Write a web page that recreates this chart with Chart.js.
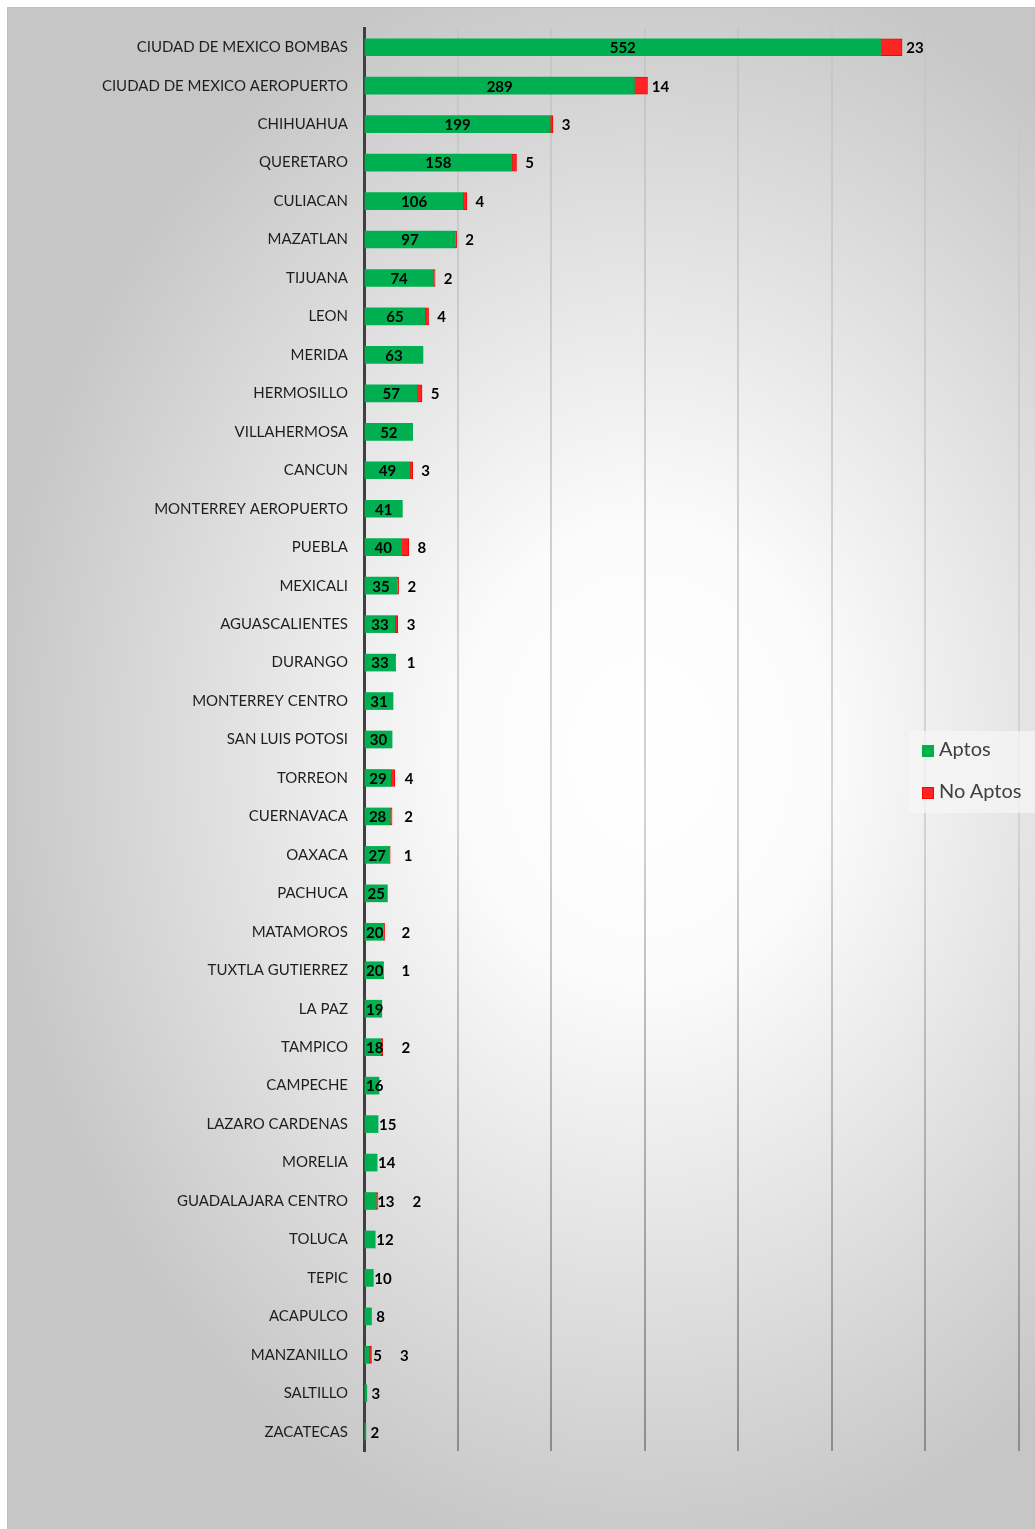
<!DOCTYPE html>
<html>
<head>
<meta charset="utf-8">
<script src="https://cdn.jsdelivr.net/npm/chart.js@4.4.1/dist/chart.umd.min.js"></script>
<style>
  body { margin: 0; background: #ffffff; }
  #frame {
    position: absolute; left: 7px; top: 7px; width: 1028px; height: 1522px;
    background: radial-gradient(ellipse 64% 54% at 62% 49%, #ffffff 0%, #fbfbfb 28%, #e2e2e2 62%, #c6c6c6 100%);
    border-left: 1px solid #c0c0c0; border-top: 1px solid #c0c0c0; box-sizing: border-box;
  }
  #chart { display: block; }
  #legend {
    position: absolute; left: 901px; top: 723px; width: 127px; height: 82px;
    background: rgba(245, 245, 245, 0.75);
    font-family: Lato, "Open Sans", sans-serif; font-size: 20px; color: #404040;
  }
  .item { position: absolute; left: 13px; height: 24px; line-height: 24px; white-space: nowrap; }
  .item span { display: inline-block; width: 12px; height: 12px; margin-right: 5px; vertical-align: -1px; box-sizing: border-box; }
</style>
</head>
<body>
<div id="frame">
  <canvas id="chart" width="1027" height="1521"></canvas>
  <div id="legend"></div>
</div>
<script>
var categories = ["CIUDAD DE MEXICO BOMBAS", "CIUDAD DE MEXICO AEROPUERTO", "CHIHUAHUA", "QUERETARO", "CULIACAN",
  "MAZATLAN", "TIJUANA", "LEON", "MERIDA", "HERMOSILLO", "VILLAHERMOSA", "CANCUN", "MONTERREY AEROPUERTO",
  "PUEBLA", "MEXICALI", "AGUASCALIENTES", "DURANGO", "MONTERREY CENTRO", "SAN LUIS POTOSI", "TORREON",
  "CUERNAVACA", "OAXACA", "PACHUCA", "MATAMOROS", "TUXTLA GUTIERREZ", "LA PAZ", "TAMPICO", "CAMPECHE",
  "LAZARO CARDENAS", "MORELIA", "GUADALAJARA CENTRO", "TOLUCA", "TEPIC", "ACAPULCO", "MANZANILLO",
  "SALTILLO", "ZACATECAS"];
var aptos = [552, 289, 199, 158, 106, 97, 74, 65, 63, 57, 52, 49, 41, 40, 35, 33, 33, 31, 30, 29,
  28, 27, 25, 20, 20, 19, 18, 16, 15, 14, 13, 12, 10, 8, 5, 3, 2];
var noAptos = [23, 14, 3, 5, 4, 2, 2, 4, null, 5, null, 3, null, 8, 2, 3, 1, null, null, 4,
  2, 1, null, 2, 1, null, 2, null, null, null, 2, null, null, null, 3, null, null];
var seriesNames = ["Aptos", "No Aptos"];
var xTicks = [0, 100, 200, 300, 400, 500, 600, 700];

var green = "#00b050";
var red = "#ff2424";

// draws the numbers on the bars, small green bars push their number to the right
var barLabels = {
  id: "barLabels",
  afterDatasetsDraw: function (chart) {
    var ctx = chart.ctx;
    var g = chart.getDatasetMeta(0).data;
    var r = chart.getDatasetMeta(1).data;
    ctx.save();
    ctx.font = "bold 15px Lato, 'Open Sans', sans-serif";
    ctx.fillStyle = "#000000";
    ctx.textAlign = "center";
    ctx.textBaseline = "middle";
    for (var i = 0; i < g.length; i++) {
      var bar = g[i];
      var txt = String(aptos[i]);
      var w = ctx.measureText(txt).width;
      var width = bar.x - bar.base;
      var cx = (bar.x + bar.base) / 2;
      if (width < w * 0.75) {
        cx = bar.x + Math.max(w / 2, 8) + 1;
      } else {
        cx = Math.max(cx, bar.base + w / 2 + 1);
      }
      ctx.fillText(txt, cx, bar.y + 1);
      if (noAptos[i] != null) {
        var t2 = String(noAptos[i]);
        var w2 = ctx.measureText(t2).width;
        var rx = Math.max(r[i].x + 13, cx + w / 2 + 18 + w2 / 2);
        ctx.fillText(t2, rx, bar.y + 1);
      }
    }
    ctx.restore();
  }
};

function gridColor(c) {
  var chart = c.chart;
  if (!chart.chartArea) return "#c4c4c4";
  var a = chart.chartArea;
  var grad = chart.ctx.createLinearGradient(0, a.top, 0, a.bottom);
  grad.addColorStop(0, "#c6c6c6");
  grad.addColorStop(0.55, "#d4d4d4");
  grad.addColorStop(1, "#8c8c8c");
  return grad;
}

var ctx = document.getElementById("chart");
var myChart = new Chart(ctx, {
  type: "bar",
  data: {
    labels: categories,
    datasets: [{
      label: seriesNames[0],
      data: aptos,
      backgroundColor: green,
      borderWidth: 0,
      barThickness: 17
    }, {
      label: seriesNames[1],
      data: noAptos,
      backgroundColor: red,
      borderColor: "#ff0000",
      borderWidth: 1,
      borderSkipped: false,
      barThickness: 17
    }]
  },
  options: {
    indexAxis: "y",
    responsive: false,
    animation: false,
    layout: { padding: { left: 0, top: 20, right: 16, bottom: 78 } },
    plugins: { legend: { display: false }, tooltip: { enabled: false } },
    scales: {
      x: {
        stacked: true,
        min: xTicks[0],
        max: xTicks[xTicks.length - 1],
        afterBuildTicks: function (scale) {
          scale.ticks = xTicks.map(function (v) { return { value: v }; });
        },
        afterFit: function (scale) { scale.height = 0; },
        ticks: { display: false },
        border: { display: false },
        grid: { color: gridColor, lineWidth: 2, drawTicks: false }
      },
      y: {
        stacked: true,
        afterFit: function (scale) {
          scale.width = 356;
          scale.paddingTop = 0;
          scale.paddingBottom = 0;
        },
        grid: { display: false, drawTicks: false },
        border: { display: true, color: "#404040", width: 3 },
        ticks: {
          color: "#1e1e1e",
          padding: 16,
          font: { family: "Lato, 'Open Sans', sans-serif", size: 15 }
        }
      }
    }
  },
  plugins: [barLabels]
});

var legend = document.getElementById("legend");
myChart.data.datasets.forEach(function (ds, i) {
  var item = document.createElement("div");
  item.className = "item";
  item.style.top = (5 + i * 42) + "px";
  var box = document.createElement("span");
  box.style.background = ds.backgroundColor;
  if (ds.borderWidth) box.style.border = "1px solid " + ds.borderColor;
  item.appendChild(box);
  item.appendChild(document.createTextNode(ds.label));
  legend.appendChild(item);
});
</script>
</body>
</html>
